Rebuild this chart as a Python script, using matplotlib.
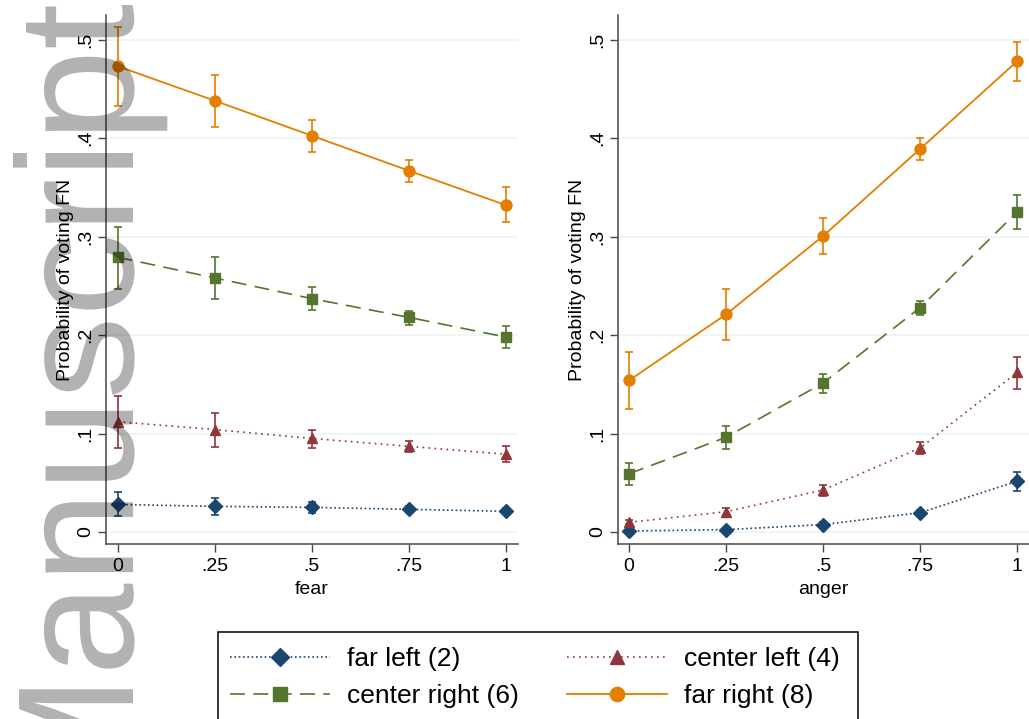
import matplotlib
matplotlib.use("Agg")
import matplotlib.pyplot as plt
from matplotlib.patches import Rectangle, PathPatch
from matplotlib.textpath import TextPath
from matplotlib.font_manager import FontProperties
from matplotlib.transforms import Affine2D, IdentityTransform

plt.rcParams['font.family'] = ['Liberation Sans', 'DejaVu Sans']

# predicted probabilities (marginsplot)
x = [0, .25, .5, .75, 1]
x_ticklabels = ["0", ".25", ".5", ".75", "1"]
y_ticks = [0, .1, .2, .3, .4, .5]
y_ticklabels = ["0", ".1", ".2", ".3", ".4", ".5"]

fear_far_left = [0.028, 0.026, 0.025, 0.023, 0.021]
fear_far_left_lo = [0.016, 0.017, 0.019, 0.020, 0.018]
fear_far_left_hi = [0.041, 0.035, 0.030, 0.026, 0.024]
fear_center_left = [0.112, 0.104, 0.095, 0.087, 0.079]
fear_center_left_lo = [0.085, 0.086, 0.085, 0.081, 0.071]
fear_center_left_hi = [0.138, 0.121, 0.104, 0.092, 0.087]
fear_center_right = [0.279, 0.258, 0.237, 0.218, 0.198]
fear_center_right_lo = [0.247, 0.237, 0.225, 0.210, 0.187]
fear_center_right_hi = [0.310, 0.279, 0.249, 0.224, 0.209]
fear_far_right = [0.473, 0.438, 0.4025, 0.367, 0.332]
fear_far_right_lo = [0.433, 0.411, 0.386, 0.355, 0.315]
fear_far_right_hi = [0.513, 0.464, 0.418, 0.378, 0.350]

anger_far_left = [0.001, 0.0024, 0.0075, 0.0196, 0.0515]
anger_far_left_lo = [0.0, 0.001, 0.005, 0.017, 0.042]
anger_far_left_hi = [0.002, 0.004, 0.010, 0.022, 0.061]
anger_center_left = [0.0098, 0.0206, 0.0427, 0.0853, 0.162]
anger_center_left_lo = [0.007, 0.017, 0.037, 0.0795, 0.145]
anger_center_left_hi = [0.012, 0.024, 0.048, 0.091, 0.178]
anger_center_right = [0.0592, 0.0962, 0.1513, 0.2278, 0.325]
anger_center_right_lo = [0.048, 0.0843, 0.141, 0.220, 0.308]
anger_center_right_hi = [0.0704, 0.108, 0.1605, 0.235, 0.342]
anger_far_right = [0.154, 0.221, 0.3006, 0.389, 0.478]
anger_far_right_lo = [0.125, 0.1947, 0.282, 0.3775, 0.4584]
anger_far_right_hi = [0.183, 0.2468, 0.319, 0.4005, 0.498]

labels = ["far left (2)", "center left (4)", "center right (6)", "far right (8)"]
colors = ["#1a476f", "#90353b", "#55752f", "#e37e00"]
markers = ["D", "^", "s", "o"]
msizes = [7.0, 7.9, 7.2, 7.9]
styles = [(0, (1, 1.6)), (0, (1, 2.6)), (0, (9, 5)), "-"]

fear = [
    (fear_far_left, fear_far_left_lo, fear_far_left_hi),
    (fear_center_left, fear_center_left_lo, fear_center_left_hi),
    (fear_center_right, fear_center_right_lo, fear_center_right_hi),
    (fear_far_right, fear_far_right_lo, fear_far_right_hi),
]
anger = [
    (anger_far_left, anger_far_left_lo, anger_far_left_hi),
    (anger_center_left, anger_center_left_lo, anger_center_left_hi),
    (anger_center_right, anger_center_right_lo, anger_center_right_hi),
    (anger_far_right, anger_far_right_lo, anger_far_right_hi),
]

W, H = 1029, 719
fig = plt.figure(figsize=(W / 100, H / 100), dpi=100)
ax1 = fig.add_axes([106 / W, 175 / H, 412 / W, 529 / H])
ax2 = fig.add_axes([617.5 / W, 175 / H, 412 / W, 529 / H])


def panel(ax, series, xlabel):
    lines = []
    for (ys, lo, hi), c, m, ms, ls in zip(series, colors, markers, msizes, styles):
        err = [[y - l for y, l in zip(ys, lo)], [h - y for y, h in zip(ys, hi)]]
        ax.errorbar(x, ys, yerr=err, fmt='none', ecolor=c, elinewidth=1.2,
                    capsize=3, capthick=1.2, zorder=3)
        ln, = ax.plot(x, ys, color=c, marker=m, markersize=ms, linestyle=ls,
                      linewidth=1.2 if ls != "-" else 1.3, zorder=4)
        lines.append(ln)
    ax.set_xlim(-0.03, 1.032)
    ax.set_ylim(-0.0122, 0.525)
    ax.set_xticks(x)
    ax.set_xticklabels(x_ticklabels)
    ax.set_yticks(y_ticks)
    ax.set_yticklabels(y_ticklabels, rotation=90, va='center')
    ax.grid(axis='y', color='#eaf2f3', linewidth=1.1)
    ax.set_axisbelow(True)
    for s in ['top', 'right']:
        ax.spines[s].set_visible(False)
    for s in ['left', 'bottom']:
        ax.spines[s].set_color('#555555')
        ax.spines[s].set_linewidth(1.2)
    ax.tick_params(length=5.8, width=1, color='#444444', labelsize=14)
    ax.tick_params(axis='x', pad=4.3)
    ax.tick_params(axis='y', pad=2.5)
    ax.set_xlabel(xlabel, fontsize=14, labelpad=4)
    ax.set_ylabel("Probability of voting FN", fontsize=14, labelpad=2.5)
    return lines


lines = panel(ax1, fear, "fear")
panel(ax2, anger, "anger")

# legend: two columns, column-major order
order = [0, 2, 1, 3]
fig.legend([lines[i] for i in order], [labels[i] for i in order], ncol=2,
           loc='upper left', bbox_to_anchor=(230 / W, (H - 647) / H),
           frameon=False, fontsize=19, handlelength=3.79, handletextpad=0.65,
           columnspacing=1.82, labelspacing=0.51, borderpad=0, borderaxespad=0,
           markerscale=1.3)
fig.add_artist(Rectangle((218 / W, -0.1), (858 - 218) / W, 0.1 + (H - 632) / H,
                         transform=fig.transFigure, fill=False,
                         edgecolor='black', linewidth=1.1))

# watermark, rotated, placed in pixels
wm = TextPath((0, 0), "Manuscript", size=165.6,
              prop=FontProperties(family='Liberation Sans'))
ext = wm.get_extents()
wm_tr = Affine2D().rotate_deg(90).translate(133, (H - 5) - ext.x1)
fig.add_artist(PathPatch(wm_tr.transform_path(wm), facecolor='black',
                         edgecolor='none', alpha=0.3,
                         transform=IdentityTransform(), zorder=10))

fig.savefig("out.png", dpi=100)
